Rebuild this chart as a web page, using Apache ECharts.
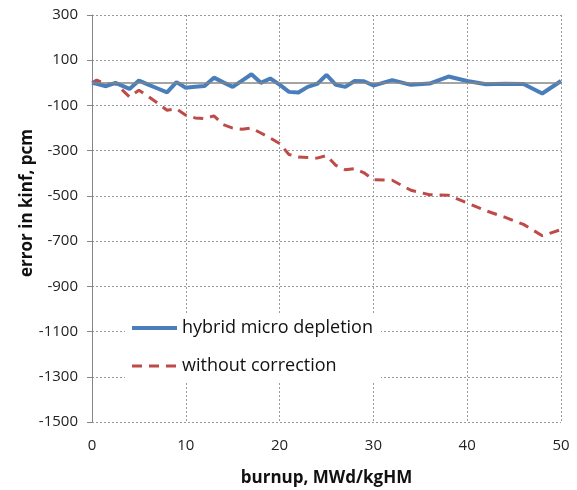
<!DOCTYPE html>
<html>
<head>
<meta charset="utf-8">
<script src="https://cdn.jsdelivr.net/npm/echarts@6/dist/echarts.min.js"></script>
<style>
  html, body { margin: 0; padding: 0; background: #fff; }
  #chart { width: 577px; height: 490px; }
</style>
</head>
<body>
<div id="chart"></div>
<script>
// Burnup steps (MWd/kgHM)
const burnup = [0, 0.5, 1.5, 2.5, 4, 5, 6, 7, 8, 9, 10, 11, 12, 13, 14, 15, 16, 17, 18, 19, 20,
  21, 22, 23, 24, 25, 26, 27, 28, 29, 30, 32, 34, 36, 38, 40, 42, 44, 46, 48, 50];

// Error in kinf (pcm) with hybrid micro depletion
const hybridMicro = [0, -4, -15, 0, -27, 10, -8, -25, -42, 3, -22, -17, -14, 23, 2, -18, 10, 38, 0, 19, -8,
  -40, -43, -18, -5, 35, -9, -18, 8, 7, -12, 12, -9, -3, 28, 8, -6, -4, -5, -47, 8];

// Error in kinf (pcm) without correction
const withoutCorrection = [0, 12, -6, -3, -62, -33, -60, -90, -121, -115, -143, -155, -158, -146, -185, -200, -205, -200, -222, -244, -268,
  -317, -328, -330, -333, -322, -365, -384, -379, -398, -428, -431, -475, -495, -497, -531, -566, -594, -626, -676, -649];

const seriesNames = ['hybrid micro depletion', 'without correction'];

const font = '"Open Sans", "DejaVu Sans", sans-serif';
const pair = (ys) => burnup.map((x, i) => [x, ys[i]]);

const chart = echarts.init(document.getElementById('chart'), null, { renderer: 'canvas' });
chart.setOption({
  animation: false,
  backgroundColor: '#ffffff',
  grid: { left: 92, right: 16, top: 15, bottom: 68, containLabel: false, outerBoundsMode: 'none' },
  xAxis: {
    type: 'value',
    min: 0, max: 50, interval: 10,
    name: 'burnup, MWd/kgHM',
    nameLocation: 'middle',
    nameGap: 48,
    nameTextStyle: { fontFamily: font, fontSize: 17, fontWeight: 'bold', color: '#111' },
    axisLine: { show: false },
    axisTick: { show: false },
    axisLabel: { margin: 16, fontFamily: font, fontSize: 15, color: '#222' },
    splitLine: { show: true, lineStyle: { color: '#9a9a9a', type: [2, 2], width: 1 } }
  },
  yAxis: {
    type: 'value',
    min: -1500, max: 300, interval: 200,
    axisLine: { show: true, lineStyle: { color: '#868686', width: 1 } },
    axisTick: { show: true, length: 5, lineStyle: { color: '#868686' } },
    axisLabel: {
      margin: 14, fontFamily: font, fontSize: 15, color: '#222',
      formatter: (v) => String(v)
    },
    splitLine: { show: true, lineStyle: { color: '#9a9a9a', type: [2, 2], width: 1 } }
  },
  legend: {
    orient: 'vertical',
    left: 125, top: 313,
    padding: [6, 8, 6, 5],
    backgroundColor: '#ffffff',
    itemWidth: 45, itemHeight: 14, itemGap: 20,
    itemStyle: { opacity: 0 },
    lineStyle: { width: 'inherit', type: 'inherit' },
    textStyle: { fontFamily: font, fontSize: 18, color: '#111' },
    data: seriesNames
  },
  graphic: [{
    type: 'text',
    x: 27, y: 203,
    rotation: Math.PI / 2,
    style: {
      text: 'error in kinf, pcm',
      font: 'bold 17px ' + font,
      fill: '#111',
      align: 'center',
      verticalAlign: 'middle'
    }
  }],
  series: [
    {
      name: seriesNames[1],
      type: 'line',
      data: pair(withoutCorrection),
      showSymbol: false,
      symbol: 'none',
      lineStyle: { color: '#be4b48', width: 3, type: [10, 7] },
      itemStyle: { color: '#be4b48' },
      z: 3,
      markLine: {
        silent: true,
        symbol: 'none',
        label: { show: false },
        lineStyle: { color: '#868686', type: 'solid', width: 1.5 },
        data: [{ yAxis: 0 }]
      }
    },
    {
      name: seriesNames[0],
      type: 'line',
      data: pair(hybridMicro),
      showSymbol: false,
      symbol: 'none',
      lineStyle: { color: '#4a7ebb', width: 4 },
      itemStyle: { color: '#4a7ebb' },
      z: 4
    }
  ]
});
</script>
</body>
</html>
